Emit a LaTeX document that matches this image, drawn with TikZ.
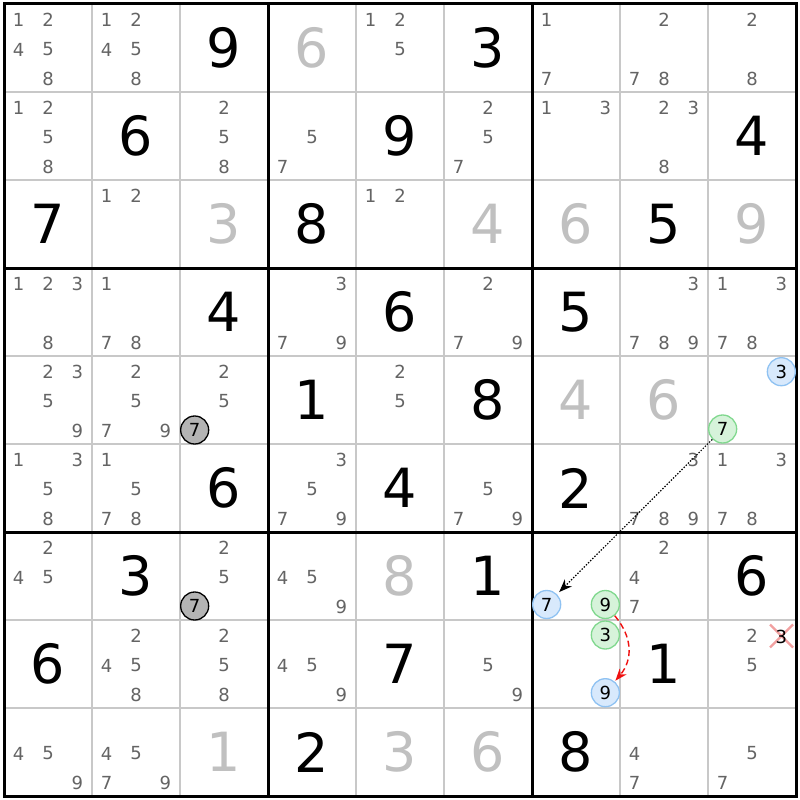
\documentclass[tikz,border=0pt]{standalone}
\usepackage{fontspec}
\setmainfont{DejaVu Sans}
\usetikzlibrary{arrows.meta}
\definecolor{candgray}{HTML}{646464}
\definecolor{solvedgray}{HTML}{C0C0C0}
\definecolor{thingray}{HTML}{C8C8C8}
\definecolor{bluefill}{HTML}{D8E9FC}
\definecolor{blueline}{HTML}{8FC2F2}
\definecolor{greenfill}{HTML}{D6F3DA}
\definecolor{greenline}{HTML}{80D88E}
\definecolor{grayfill}{HTML}{B4B4B4}
\definecolor{xred}{HTML}{F2A0A0}
\definecolor{arrred}{HTML}{F01010}
\begin{document}
\begin{tikzpicture}[x=1pt,y=-1pt,
  cand/.style={inner sep=0pt, text=candgray, font=\fontsize{18}{18}\selectfont},
  given/.style={inner sep=0pt, text=black, font=\fontsize{54}{54}\selectfont},
  solved/.style={inner sep=0pt, text=solvedgray, font=\fontsize{54}{54}\selectfont},
  candmark/.style={circle, inner sep=0pt, minimum size=28pt, line width=1.3pt, text=black, font=\fontsize{18}{18}\selectfont},
  graymark/.style={candmark, draw=black, fill=grayfill},
  bluemark/.style={candmark, draw=blueline, fill=bluefill},
  greenmark/.style={candmark, draw=greenline, fill=greenfill},
  thinline/.style={draw=thingray, line width=1.5pt},
  thickline/.style={draw=black, line width=3pt}
]
\useasboundingbox (0,0) rectangle (800,800);
\fill[white] (0,0) rectangle (800,800);
% thin grid lines
\foreach \i in {1,2,4,5,7,8} {
  \draw[thinline] (4+88*\i,4) -- (4+88*\i,796);
  \draw[thinline] (4,4+88*\i) -- (796,4+88*\i);
}
% thick grid lines
\foreach \i in {1,2} {
  \draw[thickline] (4+264*\i,4) -- (4+264*\i,796);
  \draw[thickline] (4,4+264*\i) -- (796,4+264*\i);
}
\draw[thickline] (4,4) rectangle (796,796);
% givens
\foreach \r/\c/\v in {0/2/9,0/5/3,1/1/6,1/4/9,1/8/4,2/0/7,2/3/8,2/7/5,3/2/4,3/4/6,3/6/5,4/3/1,4/5/8,5/2/6,5/4/4,5/6/2,6/1/3,6/5/1,6/8/6,7/0/6,7/4/7,7/7/1,8/3/2,8/6/8} {
  \node[given] (g\r\c) at (48+88*\c,48+88*\r) {\v};
}
% solved
\foreach \r/\c/\v in {0/3/6,2/2/3,2/5/4,2/6/6,2/8/9,4/6/4,4/7/6,6/4/8,8/2/1,8/4/3,8/5/6} {
  \node[solved] (s\r\c) at (48+88*\c,48+88*\r) {\v};
}
% candidates
\foreach \r/\c/\ds in {0/0/{1,2,4,5,8},0/1/{1,2,4,5,8},0/4/{1,2,5},0/6/{1,7},0/7/{2,7,8},0/8/{2,8},
  1/0/{1,2,5,8},1/2/{2,5,8},1/3/{5,7},1/5/{2,5,7},1/6/{1,3},1/7/{2,3,8},
  2/1/{1,2},2/4/{1,2},
  3/0/{1,2,3,8},3/1/{1,7,8},3/3/{3,7,9},3/5/{2,7,9},3/7/{3,7,8,9},3/8/{1,3,7,8},
  4/0/{2,3,5,9},4/1/{2,5,7,9},4/2/{2,5},4/4/{2,5},
  5/0/{1,3,5,8},5/1/{1,5,7,8},5/3/{3,5,7,9},5/5/{5,7,9},5/7/{3,7,8,9},5/8/{1,3,7,8},
  6/0/{2,4,5},6/2/{2,5},6/3/{4,5,9},6/7/{2,4,7},
  7/1/{2,4,5,8},7/2/{2,5,8},7/3/{4,5,9},7/5/{5,9},7/8/{2,5},
  8/0/{4,5,9},8/1/{4,5,7,9},8/7/{4,7},8/8/{5,7}} {
  \foreach \d in \ds {
    \pgfmathsetmacro\px{4+88*\c+88*(2*mod(\d-1,3)+1)/6}
    \pgfmathsetmacro\py{4+88*\r+88*(2*floor((\d-1)/3)+1)/6+1.5}
    \node[cand] (c\r\c\d) at (\px,\py) {\d};
  }
}
% crossed candidate 3 in r7c8
\coordinate (x1) at (770,624.5);
\coordinate (x2) at (793,647.5);
\coordinate (x3) at (770,647.5);
\coordinate (x4) at (793,624.5);
\draw[xred, line width=2.4pt] (x1) -- (x2);
\draw[xred, line width=2.4pt] (x3) -- (x4);
\node[cand, text=black] (c783) at (781.33,636.7) {3};
% marked candidates
\node[graymark] (m427) at (194.67,430) {7};
\node[graymark] (m627) at (194.67,606) {7};
\node[bluemark] (m483) at (781.33,371.7) {3};
\node[greenmark] (m487) at (722.67,429) {7};
\node[bluemark] (m667) at (546.67,604.5) {7};
\node[greenmark] (m669) at (605.33,604.5) {9};
\node[greenmark] (m763) at (605.33,635) {3};
\node[bluemark] (m769) at (605.33,692.7) {9};
% links
\draw[black, line width=1.2pt, dash pattern=on 1.4pt off 1.6pt, shorten >=3pt,
  -{Stealth[length=13pt,width=10pt]}] (m487) -- (m667);
\draw[arrred, line width=1.4pt, dash pattern=on 6pt off 3.5pt, shorten >=1pt,
  -{Stealth[length=12pt,width=9pt]}] (m669) to[out=-50,in=50,looseness=1.1] (m769);
\end{tikzpicture}
\end{document}
